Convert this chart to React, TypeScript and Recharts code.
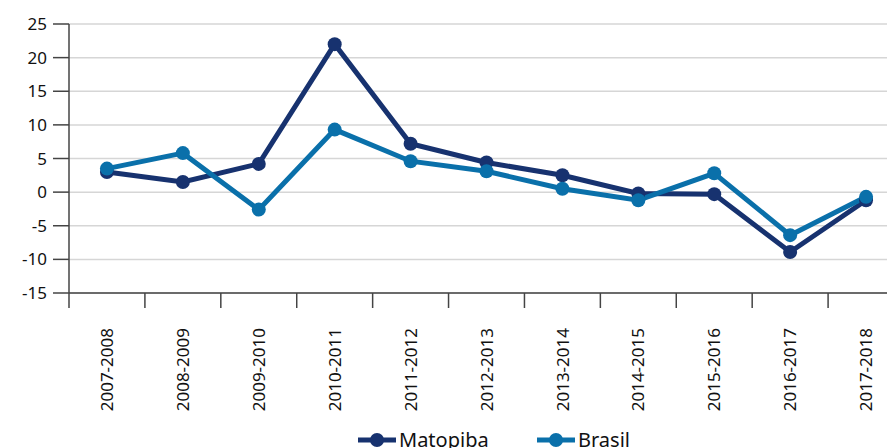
import { LineChart, Line, XAxis, YAxis, CartesianGrid, Legend } from "recharts";

const seasons = [
  "2007-2008", "2008-2009", "2009-2010", "2010-2011", "2011-2012", "2012-2013",
  "2013-2014", "2014-2015", "2015-2016", "2016-2017", "2017-2018",
];
const matopiba = [3.0, 1.5, 4.2, 22.0, 7.2, 4.4, 2.5, -0.2, -0.3, -8.9, -1.2];
const brasil = [3.5, 5.8, -2.6, 9.3, 4.6, 3.1, 0.5, -1.2, 2.8, -6.4, -0.7];
const yTicks = [-15, -10, -5, 0, 5, 10, 15, 20, 25];

const data = seasons.map((s, i) => ({ season: s, matopiba: matopiba[i], brasil: brasil[i] }));

const DARK = "#17326f";
const LIGHT = "#0a70aa";
const FONT = "'Noto Sans', 'Open Sans', sans-serif";

const W = 904;
const LEFT = 69;
const BAND = (W - LEFT) / seasons.length;

function SeasonTick(props: any) {
  const { x, y, payload } = props;
  return (
    <g transform={`translate(${x},${y})`}>
      <line x1={-BAND / 2} y1={0} x2={-BAND / 2} y2={15} stroke="#444" strokeWidth={1.5} />
      <text
        transform="rotate(-90)"
        x={-35}
        y={0}
        dy="0.36em"
        textAnchor="end"
        fill="#111"
        fontSize={17}
        fontFamily={FONT}
      >
        {payload.value}
      </text>
    </g>
  );
}

function LegendBox() {
  const items = [
    { name: "Matopiba", color: DARK, x: 358 },
    { name: "Brasil", color: LIGHT, x: 537 },
  ];
  return (
    <svg width={W} height={30}>
      {items.map((it) => (
        <g key={it.name}>
          <line x1={it.x} y1={12} x2={it.x + 38} y2={12} stroke={it.color} strokeWidth={5} />
          <circle cx={it.x + 19} cy={12} r={7} fill={it.color} />
          <text x={it.x + 41} y={19} fontSize={20} fontFamily={FONT} fill="#111">
            {it.name}
          </text>
        </g>
      ))}
    </svg>
  );
}

export default function App() {
  return (
    <div style={{ width: 895, height: 448, overflow: "hidden", margin: "-8px 0 0 -8px", background: "#fff" }}>
      <LineChart width={W} height={470} data={data} margin={{ top: 24, right: 0, left: 0, bottom: 0 }}>
        <CartesianGrid vertical={false} stroke="#d6d6d6" strokeWidth={1.5} />
        <XAxis
          dataKey="season"
          scale="band"
          height={177}
          axisLine={{ stroke: "#444", strokeWidth: 1.5 }}
          tickLine={false}
          tickSize={0}
          tickMargin={0}
          interval={0}
          tick={<SeasonTick />}
        />
        <YAxis
          width={LEFT}
          domain={[-15, 25]}
          ticks={yTicks}
          interval={0}
          axisLine={{ stroke: "#444", strokeWidth: 1.5 }}
          tickLine={{ stroke: "#444", strokeWidth: 1.5 }}
          tickSize={16}
          tickMargin={6}
          tick={{ fill: "#111", fontSize: 17, fontFamily: FONT }}
        />
        <Legend
          layout="horizontal"
          verticalAlign="middle"
          align="center"
          wrapperStyle={{ top: 428, left: 0, width: W }}
          content={<LegendBox />}
        />
        <Line
          dataKey="matopiba"
          name="Matopiba"
          stroke={DARK}
          strokeWidth={5}
          dot={{ r: 7, fill: DARK, stroke: DARK, strokeWidth: 0 }}
          isAnimationActive={false}
        />
        <Line
          dataKey="brasil"
          name="Brasil"
          stroke={LIGHT}
          strokeWidth={5}
          dot={{ r: 7, fill: LIGHT, stroke: LIGHT, strokeWidth: 0 }}
          isAnimationActive={false}
        />
      </LineChart>
    </div>
  );
}
